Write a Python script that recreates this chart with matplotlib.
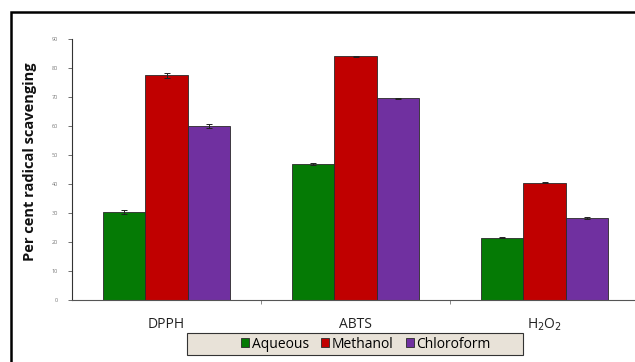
import matplotlib
matplotlib.use("Agg")
import matplotlib.pyplot as plt
import numpy as np
from matplotlib.patches import Rectangle

categories = ["DPPH", "ABTS", "H$_2$O$_2$"]
series_names = ["Aqueous", "Methanol", "Chloroform"]
aqueous = [30.5, 47.0, 21.5]
methanol = [77.5, 84.0, 40.5]
chloroform = [60.0, 69.5, 28.3]
aqueous_err = [0.7, 0.3, 0.2]
methanol_err = [0.8, 0.2, 0.3]
chloroform_err = [0.6, 0.3, 0.3]
yticks = [0, 10, 20, 30, 40, 50, 60, 70, 80, 90]
colors = ["#057a05", "#c00000", "#7030a0"]

plt.rcParams['font.family'] = ['Open Sans', 'DejaVu Sans']

fig = plt.figure(figsize=(6.35, 3.62), dpi=100)
W, H = 635, 362
ax = fig.add_axes([72 / W, 1 - 300 / H, (639 - 72) / W, (300 - 39) / H])

x = np.arange(len(categories))
bw = 0.225
vals = [aqueous, methanol, chloroform]
errs = [aqueous_err, methanol_err, chloroform_err]
handles = []
for i, (v, e, c, n) in enumerate(zip(vals, errs, colors, series_names)):
    b = ax.bar(x + (i - 1) * bw, v, bw, color=c, edgecolor="#2a2a2a", linewidth=0.6,
               yerr=e, capsize=2, error_kw=dict(elinewidth=0.7, capthick=0.7, ecolor="#222222"),
               label=n, zorder=2)
    handles.append(b)

ax.set_xlim(-0.5, 2.5)
ax.set_ylim(0, 90)
ax.set_yticks(yticks)
ax.set_yticklabels([str(t) for t in yticks], fontsize=4, color="#777777")
ax.tick_params(axis='y', direction='out', length=3, width=0.6, color="#555555", pad=7)
ax.set_xticks(x)
ax.set_xticklabels(categories, fontsize=10, color="#222222")
ax.tick_params(axis='x', length=0, pad=12)
ax.set_xticks([0.5, 1.5], minor=True)
ax.tick_params(axis='x', which='minor', direction='out', length=3, width=0.6, color="#777777")
for s in ['top', 'right']:
    ax.spines[s].set_visible(False)
ax.spines['left'].set_color("#333333")
ax.spines['bottom'].set_color("#555555")
ax.spines['left'].set_linewidth(0.8)
ax.spines['bottom'].set_linewidth(0.8)

fig.text(30 / W, 1 - 162 / H, "Per cent radical scavenging", rotation=90, fontsize=10.5,
         fontweight='bold', ha='center', va='center', color="#111111")

# legend box
fig.patches.append(Rectangle((187 / W, 1 - 355 / H), (523 - 187) / W, (355 - 333) / H,
                             transform=fig.transFigure, facecolor="#e8e2d8",
                             edgecolor="#333333", linewidth=0.8, zorder=1))
leg = fig.legend(handles=handles, labels=series_names, loc='center', ncol=3,
                 bbox_to_anchor=(366 / W, 1 - 344 / H), fontsize=10,
                 handlelength=0.55, handleheight=0.55, handletextpad=0.2, columnspacing=0.9,
                 frameon=False, borderpad=0.25)
leg.set_zorder(3)

fig.patches.append(Rectangle((11 / W, -0.1), 1.2, 1 - 12 / H + 0.1, transform=fig.transFigure,
                             fill=False, edgecolor="black", linewidth=1.8))

fig.savefig("out.png", dpi=100)
